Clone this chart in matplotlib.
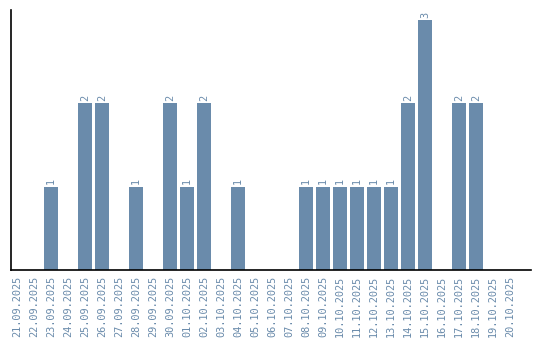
import matplotlib
matplotlib.use("Agg")
import matplotlib.pyplot as plt

dates = ["21.09.2025", "22.09.2025", "23.09.2025", "24.09.2025", "25.09.2025",
         "26.09.2025", "27.09.2025", "28.09.2025", "29.09.2025", "30.09.2025",
         "01.10.2025", "02.10.2025", "03.10.2025", "04.10.2025", "05.10.2025",
         "06.10.2025", "07.10.2025", "08.10.2025", "09.10.2025", "10.10.2025",
         "11.10.2025", "12.10.2025", "13.10.2025", "14.10.2025", "15.10.2025",
         "16.10.2025", "17.10.2025", "18.10.2025", "19.10.2025", "20.10.2025"]
values = [0, 0, 1, 0, 2, 2, 0, 1, 0, 2, 1, 2, 0, 1, 0,
          0, 0, 1, 1, 1, 1, 1, 1, 2, 3, 0, 2, 2, 0, 0]

color = "#6a8bab"
fig = plt.figure(figsize=(5.4, 3.4), dpi=100)
ax = fig.add_axes([10.5/540, 70/340, (531-10.5)/540, 260/340])
x = list(range(len(dates)))
ax.bar(x, values, width=0.83, color=color)
for xi, v in zip(x, values):
    if v > 0:
        ax.text(xi, v + 0.03, str(v), rotation=90, ha="center", va="bottom",
                fontsize=7.4, family="DejaVu Sans Mono", color=color)
ax.set_xlim(-0.38, 30.24)
ax.set_ylim(0, 3.12)
ax.set_xticks(x)
ax.set_xticklabels(dates, rotation=90, fontsize=7.4, family="DejaVu Sans Mono", color=color)
ax.tick_params(axis="x", length=0, pad=4)
ax.set_yticks([])
for s in ["top", "right"]:
    ax.spines[s].set_visible(False)
ax.spines["left"].set_linewidth(1.2)
ax.spines["bottom"].set_linewidth(1.2)
fig.savefig("out.png", dpi=100)
